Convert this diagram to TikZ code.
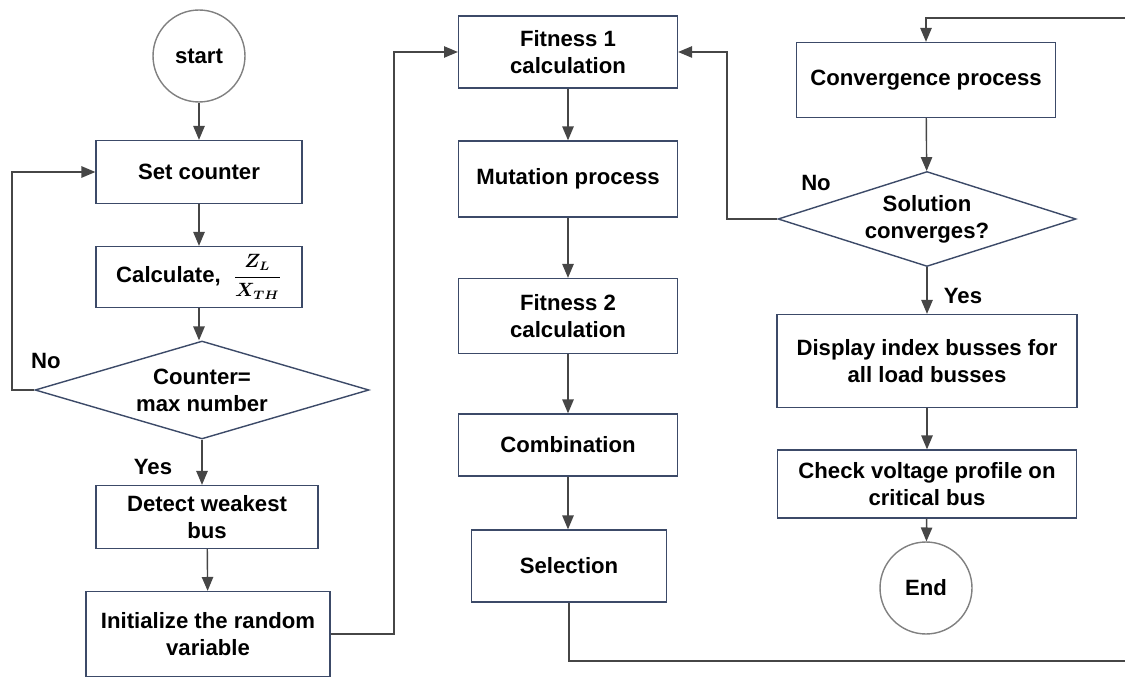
\documentclass[tikz,border=0pt]{standalone}
\usepackage{fontspec}
\setmainfont{Liberation Sans}
\usepackage{amsmath}
\usepackage{bm}
\usepackage{tikz}
\usetikzlibrary{arrows}
\usetikzlibrary{shapes.geometric}
\usetikzlibrary{positioning}
\definecolor{boxline}{RGB}{60,74,104}
\definecolor{edgegray}{RGB}{70,70,70}
\tikzset{%
  myedge/.style={->, draw=edgegray, line width=0.8pt, >=triangle 45},
  mybox/.style={rectangle, draw=boxline, line width=0.8pt, align=center,
    font=\fontsize{12.6}{15.5}\selectfont\bfseries, inner sep=0pt},
  mydec/.style={diamond, draw=boxline, line width=0.8pt, align=center, aspect=3.4,
    font=\fontsize{12.6}{15.5}\selectfont\bfseries, inner sep=0pt},
  myterm/.style={circle, draw=gray, line width=0.8pt, minimum size=1.84cm,
    font=\fontsize{12.6}{15.5}\selectfont\bfseries},
  mylabel/.style={font=\fontsize{12.6}{15.5}\selectfont\bfseries}
}

\begin{document}
\begin{tikzpicture}[x=0.02cm, y=-0.02cm]
  \useasboundingbox (0,0) rectangle (1125,678);
  % left column
  \node[myterm] (start) at (199,56) {start};
  \node[mybox, minimum width=4.12cm, minimum height=1.26cm] (setc) at (199,172) {Set counter};
  \node[mybox, minimum width=4.12cm, minimum height=1.22cm] (calc) at (199,277)
    {Calculate, \;{\fontsize{10.5}{12}\selectfont$\bm{\dfrac{Z_L}{X_{TH}}}$}};
  \node[mydec, minimum width=6.68cm, minimum height=1.96cm] (cnt) at (202,390) {Counter=\\max number};
  \node[mybox, minimum width=4.44cm, minimum height=1.26cm] (weak) at (207,517) {Detect weakest\\bus};
  \node[mybox, minimum width=4.88cm, minimum height=1.7cm] (init) at (208,634) {Initialize the random\\variable};
  % middle column
  \node[mybox, minimum width=4.38cm, minimum height=1.44cm] (fit1) at (568,52) {Fitness 1\\calculation};
  \node[mybox, minimum width=4.38cm, minimum height=1.52cm] (mut) at (568,179) {Mutation process};
  \node[mybox, minimum width=4.38cm, minimum height=1.5cm] (fit2) at (568,316) {Fitness 2\\calculation};
  \node[mybox, minimum width=4.38cm, minimum height=1.24cm] (comb) at (568,445) {Combination};
  \node[mybox, minimum width=3.9cm, minimum height=1.44cm] (sel) at (569,566) {Selection};
  % right column
  \node[mybox, minimum width=5.18cm, minimum height=1.5cm] (conv) at (926,80) {Convergence process};
  \node[mydec, minimum width=5.96cm, minimum height=1.9cm, aspect=3.1] (sol) at (927,219) {Solution\\converges?};
  \node[mybox, minimum width=6cm, minimum height=1.86cm] (disp) at (927,361) {Display index busses for\\all load busses};
  \node[mybox, minimum width=5.98cm, minimum height=1.36cm] (chk) at (927,484) {Check voltage profile on\\critical bus};
  \node[myterm] (fin) at (926,588) {End};
  % labels
  \node[mylabel] (no1) at (46,361) {No};
  \node[mylabel] (yes1) at (153,467) {Yes};
  \node[mylabel] (no2) at (816,183) {No};
  \node[mylabel] (yes2) at (963,296) {Yes};
  \coordinate (l1) at (12,390);
  \coordinate (m1) at (394,634);
  \coordinate (r1) at (727,219);
  \coordinate (b1) at (1128,661);
  \coordinate (b2) at (1128,18);
  % connectors
  \draw[myedge] (start) -- (setc);
  \draw[myedge] (setc) -- (calc);
  \draw[myedge] (calc.south) -- (calc.south |- cnt.north);
  \draw[myedge] (cnt.west) -- (l1) |- (setc.west);
  \draw[myedge] (cnt.south) -- (cnt.south |- weak.north);
  \draw[myedge] (weak) -- (init);
  \draw[myedge] (init.east) -- (m1) |- (fit1.west);
  \draw[myedge] (fit1) -- (mut);
  \draw[myedge] (mut) -- (fit2);
  \draw[myedge] (fit2) -- (comb);
  \draw[myedge] (comb.south) -- (comb.south |- sel.north);
  \draw[myedge] (sel.south) |- (b1) -- (b2) -| (conv.north);
  \draw[myedge] (conv) -- (sol);
  \draw[myedge] (sol.west) -- (r1) |- (fit1.east);
  \draw[myedge] (sol) -- (disp);
  \draw[myedge] (disp) -- (chk);
  \draw[myedge] (chk) -- (fin);
\end{tikzpicture}
\end{document}
